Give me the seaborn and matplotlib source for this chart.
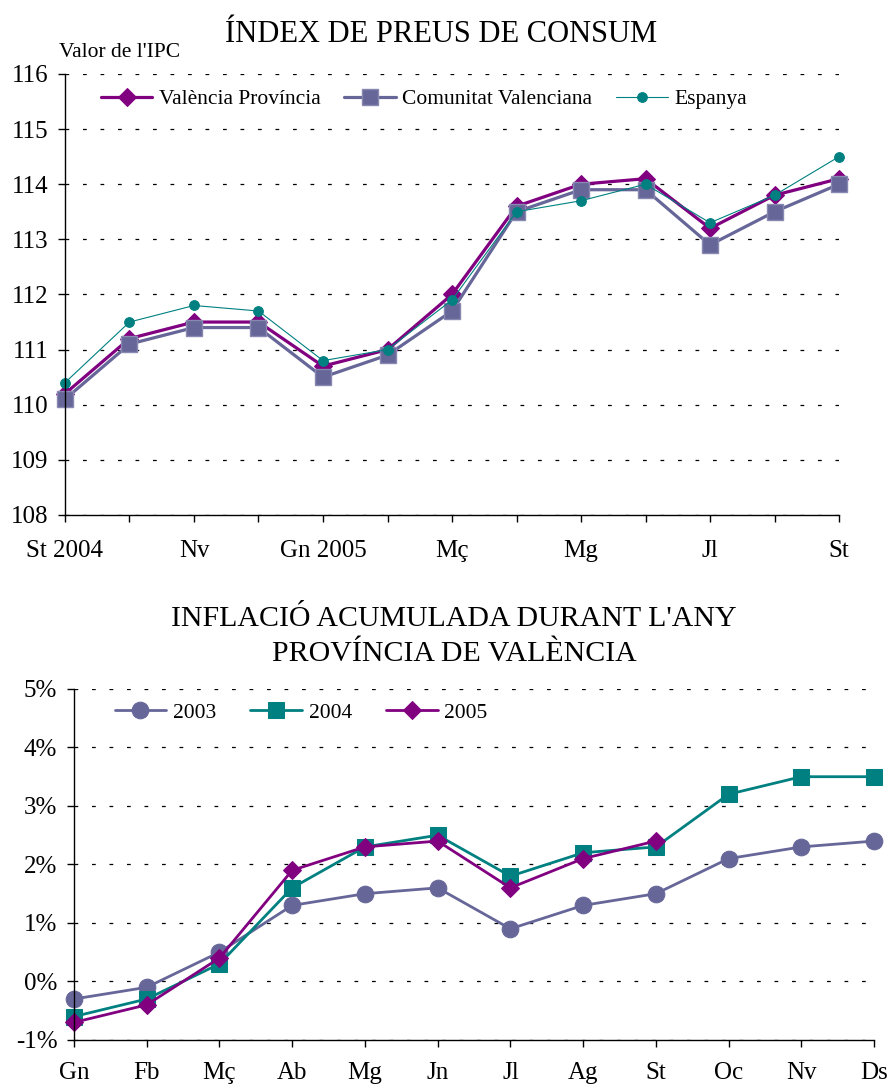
import numpy as np
import pandas as pd
import seaborn as sns
import matplotlib.pyplot as plt

# ---- data: top chart (IPC index) ----
ipc_labels = ["St 2004", "", "Nv", "", "Gn 2005", "", "Mç", "", "Mg", "", "Jl", "", "St"]
valencia_prov = [110.2, 111.2, 111.5, 111.5, 110.7, 111.0, 112.0, 113.6, 114.0, 114.1, 113.2, 113.8, 114.1]
comunitat_val = [110.1, 111.1, 111.4, 111.4, 110.5, 110.9, 111.7, 113.5, 113.9, 113.9, 112.9, 113.5, 114.0]
espanya = [110.4, 111.5, 111.8, 111.7, 110.8, 111.0, 111.9, 113.5, 113.7, 114.0, 113.3, 113.8, 114.5]

# ---- data: bottom chart (accumulated inflation, %) ----
months = ["Gn", "Fb", "Mç", "Ab", "Mg", "Jn", "Jl", "Ag", "St", "Oc", "Nv", "Ds"]
infl_2003 = [-0.3, -0.1, 0.5, 1.3, 1.5, 1.6, 0.9, 1.3, 1.5, 2.1, 2.3, 2.4]
infl_2004 = [-0.6, -0.3, 0.3, 1.6, 2.3, 2.5, 1.8, 2.2, 2.3, 3.2, 3.5, 3.5]
infl_2005 = [-0.7, -0.4, 0.4, 1.9, 2.3, 2.4, 1.6, 2.1, 2.4]

PURPLE = "#800080"
SLATE = "#666699"
TEAL = "#008080"

sns.set_style("ticks")
plt.rcParams['font.family'] = ['Liberation Serif', 'DejaVu Serif']
plt.rcParams['axes.linewidth'] = 1.0
plt.rcParams['text.color'] = 'black'
plt.rcParams['xtick.color'] = 'black'
plt.rcParams['ytick.color'] = 'black'

fig = plt.figure(figsize=(8.89, 10.86), dpi=100)


def style_axes(ax):
    sns.despine(ax=ax)
    ax.spines['left'].set_color('black')
    ax.spines['bottom'].set_color('black')
    ax.tick_params(axis='both', direction='out', length=5, width=1, colors='black',
                   labelcolor='black', labelsize=18, pad=7)
    ax.yaxis.grid(True, color='black', linestyle=(0, (3, 11)), linewidth=0.9)
    ax.xaxis.grid(False)
    ax.set_xlabel("")
    ax.set_ylabel("")


# ================= TOP CHART =================
ax1 = fig.add_axes([0.0731, 0.5258, 0.8707, 0.4061])
x1 = np.arange(len(valencia_prov))
sns.lineplot(x=x1, y=valencia_prov, ax=ax1, color=PURPLE, linewidth=2.3, marker='D',
             markersize=9, markeredgecolor=PURPLE, label="València Província")
sns.lineplot(x=x1, y=comunitat_val, ax=ax1, color=SLATE, linewidth=2.3, marker='s',
             markersize=12, markeredgecolor='#8888b0', markeredgewidth=1, label="Comunitat Valenciana")
sns.lineplot(x=x1, y=espanya, ax=ax1, color=TEAL, linewidth=0.8, marker='o',
             markersize=7, markeredgecolor=TEAL, label="Espanya")
ax1.set_xlim(0, 12)
ax1.set_ylim(108, 116)
ax1.set_yticks(range(108, 117))
ax1.set_xticks(x1)
ax1.set_xticklabels(ipc_labels)
style_axes(ax1)
ax1.tick_params(axis='x', pad=13)
for ln in ax1.lines:
    ln.set_clip_on(False)
ax1.legend(loc='upper left', bbox_to_anchor=(0.035, 0.985), ncol=3, frameon=False,
           fontsize=15.5, handlelength=2.4, columnspacing=1.1, handletextpad=0.3,
           borderaxespad=0)

fig.text(0.496, 0.968, "ÍNDEX DE PREUS DE CONSUM", ha='center', va='center', fontsize=22)
fig.text(0.066, 0.952, "Valor de l'IPC", ha='left', va='center', fontsize=15.5)

# ================= BOTTOM CHART =================
ax2 = fig.add_axes([0.0832, 0.0424, 0.9000, 0.3232])
x2 = np.arange(len(months))
sns.lineplot(x=x2, y=infl_2003, ax=ax2, color=SLATE, linewidth=2.0, marker='o',
             markersize=12, markeredgecolor=SLATE, label="2003")
sns.lineplot(x=x2, y=infl_2004, ax=ax2, color=TEAL, linewidth=2.0, marker='s',
             markersize=11, markeredgecolor=TEAL, label="2004")
sns.lineplot(x=x2[:len(infl_2005)], y=infl_2005, ax=ax2, color=PURPLE, linewidth=2.0,
             marker='D', markersize=9, markeredgecolor=PURPLE, label="2005")
ax2.set_xlim(0, 11)
ax2.set_ylim(-1, 5)
ax2.set_yticks(range(-1, 6))
ax2.set_yticklabels([f"{v}%" for v in range(-1, 6)])
ax2.set_xticks(x2)
ax2.set_xticklabels(months)
style_axes(ax2)
ax2.tick_params(axis='x', pad=11)
for ln in ax2.lines:
    ln.set_clip_on(False)
ax2.legend(loc='upper left', bbox_to_anchor=(0.04, 0.985), ncol=3, frameon=False,
           fontsize=15.5, handlelength=2.4, columnspacing=1.6, handletextpad=0.3,
           borderaxespad=0)

fig.text(0.511, 0.430, "INFLACIÓ ACUMULADA DURANT L'ANY", ha='center', va='center', fontsize=21.5)
fig.text(0.511, 0.398, "PROVÍNCIA DE VALÈNCIA", ha='center', va='center', fontsize=21.5)

fig.savefig("out.png", dpi=100)
